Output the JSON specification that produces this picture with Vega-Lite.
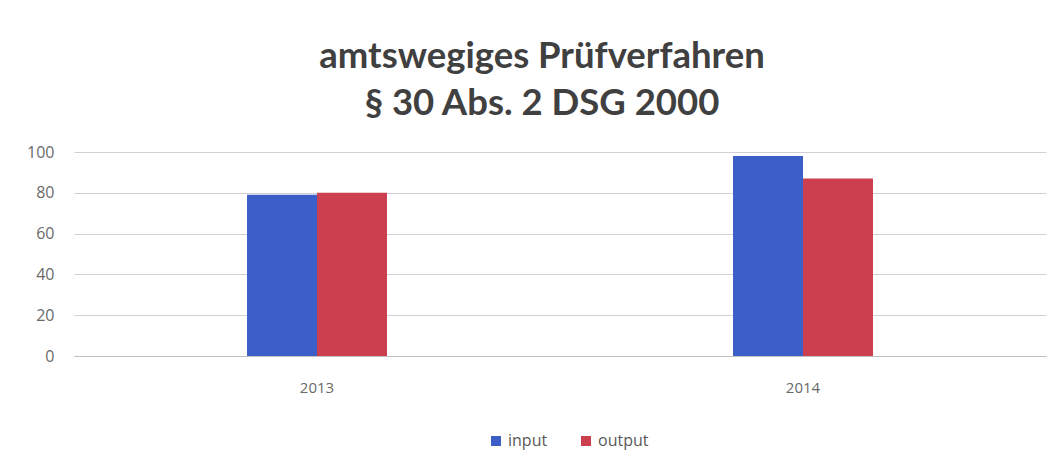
{
  "$schema": "https://vega.github.io/schema/vega-lite/v6.json",
  "width": 972,
  "height": 204,
  "padding": {"left": 26, "top": 38, "right": 12, "bottom": 5},
  "background": "white",
  "title": {
    "text": ["amtswegiges Prüfverfahren", "§ 30 Abs. 2 DSG 2000"],
    "font": "Lato",
    "fontSize": 36.5,
    "fontWeight": "bold",
    "color": "#404040",
    "lineHeight": 47,
    "anchor": "middle",
    "dx": -18,
    "offset": 22
  },
  "data": {
    "values": [
      {"year": "2013", "series": "input", "value": 79},
      {"year": "2013", "series": "output", "value": 80},
      {"year": "2014", "series": "input", "value": 98},
      {"year": "2014", "series": "output", "value": 87}
    ]
  },
  "mark": {"type": "bar"},
  "encoding": {
    "x": {
      "field": "year",
      "type": "nominal",
      "scale": {"paddingInner": 0.712, "paddingOuter": 0.356},
      "axis": {
        "title": null,
        "labelAngle": 0,
        "labelFont": "Open Sans",
        "labelFontSize": 15,
        "labelColor": "#6a6a6a",
        "labelPadding": 24,
        "ticks": false,
        "domainColor": "#bfbfbf",
        "domainWidth": 1
      }
    },
    "xOffset": {"field": "series", "type": "nominal"},
    "y": {
      "field": "value",
      "type": "quantitative",
      "scale": {"domain": [0, 100]},
      "axis": {
        "title": null,
        "values": [0, 20, 40, 60, 80, 100],
        "labelFont": "Open Sans",
        "labelFontSize": 16,
        "labelColor": "#6a6a6a",
        "labelPadding": 20,
        "ticks": false,
        "domain": false,
        "gridColor": "#d0d0d8",
        "gridWidth": 1
      }
    },
    "color": {
      "field": "series",
      "type": "nominal",
      "scale": {"domain": ["input", "output"], "range": ["#3b5ec8", "#cc3f4e"]},
      "legend": {
        "title": null,
        "orient": "none",
        "legendX": 414,
        "legendY": 281,
        "direction": "horizontal",
        "symbolType": "square",
        "symbolSize": 100,
        "labelFont": "Open Sans",
        "labelFontSize": 16,
        "labelColor": "#595959",
        "columnPadding": 30
      }
    }
  },
  "config": {
    "view": {"stroke": null}
  }
}
